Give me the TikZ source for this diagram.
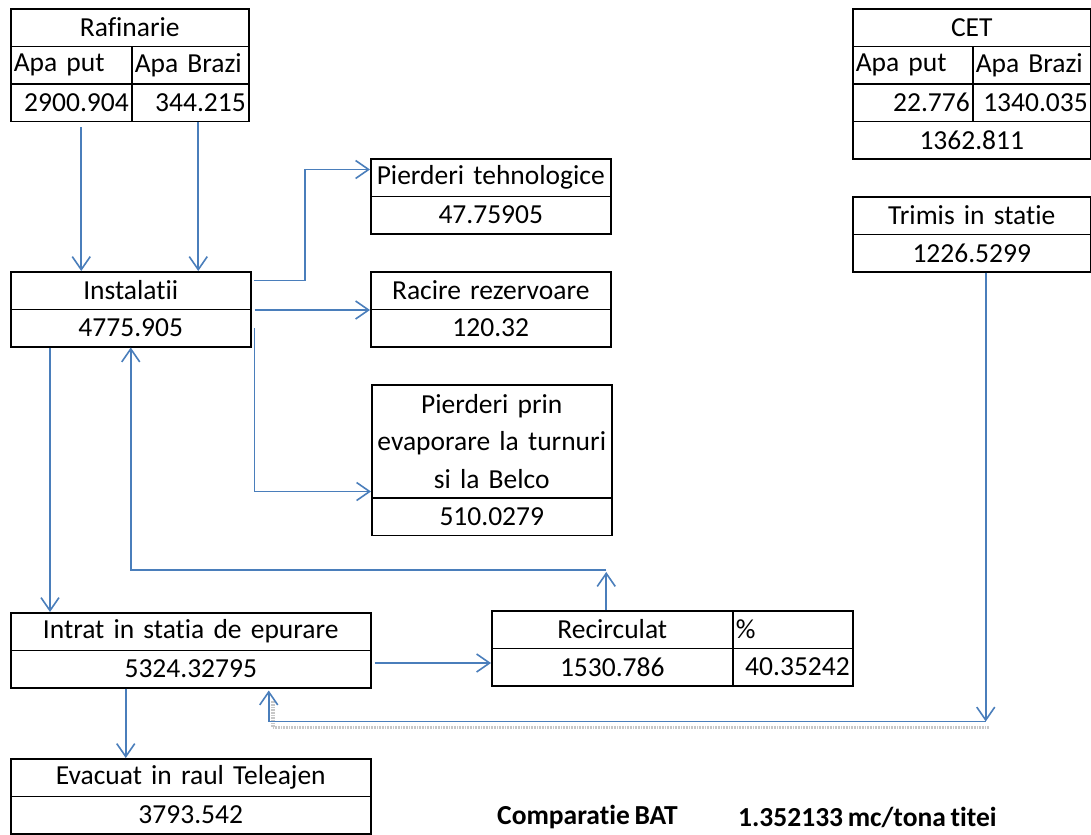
\documentclass[tikz,border=0pt]{standalone}
\usepackage{fontspec}
\setmainfont{Carlito}[Ligatures=NoCommon, WordSpace=0.75]
\usetikzlibrary{calc,arrows.meta}
\definecolor{flowblue}{HTML}{4A7EBB}
\newcommand\cellfont{\fontsize{27.5bp}{37.5bp}\selectfont}
\tikzset{
	cell/.style={draw, line width=1.5bp, inner xsep=3bp, inner ysep=0pt, minimum height=37.5bp, anchor=north west, font=\cellfont},
	cellc/.style={cell, text width=#1, align=center},
	celll/.style={cell, text width=#1, align=left},
	cellr/.style={cell, text width=#1, align=right},
	flow/.style={draw=flowblue, line width=1.6bp, -{Straight Barb[length=13bp,width=18bp]}},
	shade line/.style={draw=black!22, line width=3.5bp, dash pattern=on 1bp off 0.6bp}
}

\begin{document}
\begin{tikzpicture}[x=1bp, y=-1bp]
		%%%%% START %%%%%
		\useasboundingbox (0,0) rectangle (1091,835);
		
		\node[cellc=232bp] (raf) at (10,8) {Rafinarie};
		\node[celll=115bp] (rafput) at (10,45.5) {Apa put};
		\node[celll=111bp] (rafbrazi) at (131,45.5) {Apa Brazi};
		\node[cellr=115bp] (rafv1) at (10,83) {2900.904};
		\node[cellr=111bp] (rafv2) at (131,83) {344.215};
		
		\node[cellc=232bp] (cet) at (852,8) {CET};
		\node[celll=114bp] (cetput) at (852,45.5) {Apa put};
		\node[celll=112bp] (cetbrazi) at (972,45.5) {Apa Brazi};
		\node[cellr=114bp] (cetv1) at (852,83) {22.776};
		\node[cellr=112bp] (cetv2) at (972,83) {1340.035};
		\node[cellc=232bp] (cettot) at (852,120.5) {1362.811};
		
		\node[cellc=232bp] (trim) at (852,196) {Trimis in statie};
		\node[cellc=232bp] (trimv) at (852,233.5) {1226.5299};
		
		\node[cellc=234bp] (ptech) at (370,158) {Pierderi tehnologice};
		\node[cellc=234bp] (ptechv) at (370,195.5) {47.75905};
		
		\node[cellc=234bp] (inst) at (10,271) {Instalatii};
		\node[cellc=234bp] (instv) at (10,308.5) {4775.905};
		
		\node[cellc=234bp] (rac) at (370,271) {Racire rezervoare};
		\node[cellc=234bp] (racv) at (370,308.5) {120.32};
		
		\node[cellc=234bp, minimum height=113bp] (pevap) at (371,384) {Pierderi prin\\evaporare la turnuri\\si la Belco};
		\node[cellc=234bp] (pevapv) at (371,497) {510.0279};
		
		\node[cellc=354bp] (intr) at (10,612) {Intrat in statia de epurare};
		\node[cellc=354bp] (intrv) at (10,649.5) {5324.32795};
		
		\node[cellc=235bp] (rec) at (491,610) {Recirculat};
		\node[celll=114bp] (recp) at (732,610) {\%};
		\node[cellc=235bp] (recv) at (491,647.5) {1530.786};
		\node[cellr=114bp] (recpv) at (732,647.5) {40.35242};
		
		\node[cellc=354bp] (evac) at (10,758) {Evacuat in raul Teleajen};
		\node[cellc=354bp] (evacv) at (10,795.5) {3793.542};
		
		\node[font=\cellfont\bfseries, anchor=west, inner sep=0pt] (bat) at (497,817) {Comparatie BAT};
		\node[font=\cellfont\bfseries, anchor=west, inner sep=0pt] (batval) at (738,817) {1.352133 mc/tona titei};
		
		% flows
		\draw[flow] ($(rafv1.south)+(10,5)$) -- ($(rafv1.south|-inst.north)+(10,0)$);
		\draw[flow] ($(rafv2.south)+(8,0)$) -- ($(rafv2.south|-inst.north)+(8,0)$);
		
		\draw[flow] ($(inst.east)+(2,-10)$) -| ($(inst.east)!0.45!(ptech.west)$) |- ($(ptech.west)+(0,-8)$);
		\draw[flow] ($(inst.south east)+(3,0)$) -- (rac.south west);
		\draw[flow] ($(instv.east)+(3,0)$) |- ($(pevap.south west)+(0,-7)$);
		
		\draw[flow] ($(instv.south west)+(40,0)$) -- ($(intr.north west)+(40,0)$);
		
		\coordinate (turn) at ($(rec.north)+(-6,-40)$);
		\draw[flow] ($(rec.north)+(-6,0)$) -- ($(turn)+(0,2)$);
		\draw[flow] (turn) -| (instv.south);
		
		\draw[flow] ($(intrv.east)+(3,-6)$) -- ($(recv.west)+(0,-4)$);
		\draw[flow] ($(intrv.south)+(-65,0)$) -- ($(evac.north)+(-65,0)$);
		
		\coordinate (elbow) at ($(trimv.south)+(14,449)$);
		\draw[shade line] ($(intrv.south)+(82,12)$) |- ($(elbow)+(3,6)$);
		\draw[flow] ($(trimv.south)+(14,0)$) -- (elbow);
		\draw[flow] (elbow) -| ($(intrv.south)+(78,2)$);
		
		%%%%% END %%%%%
\end{tikzpicture}
\end{document}
